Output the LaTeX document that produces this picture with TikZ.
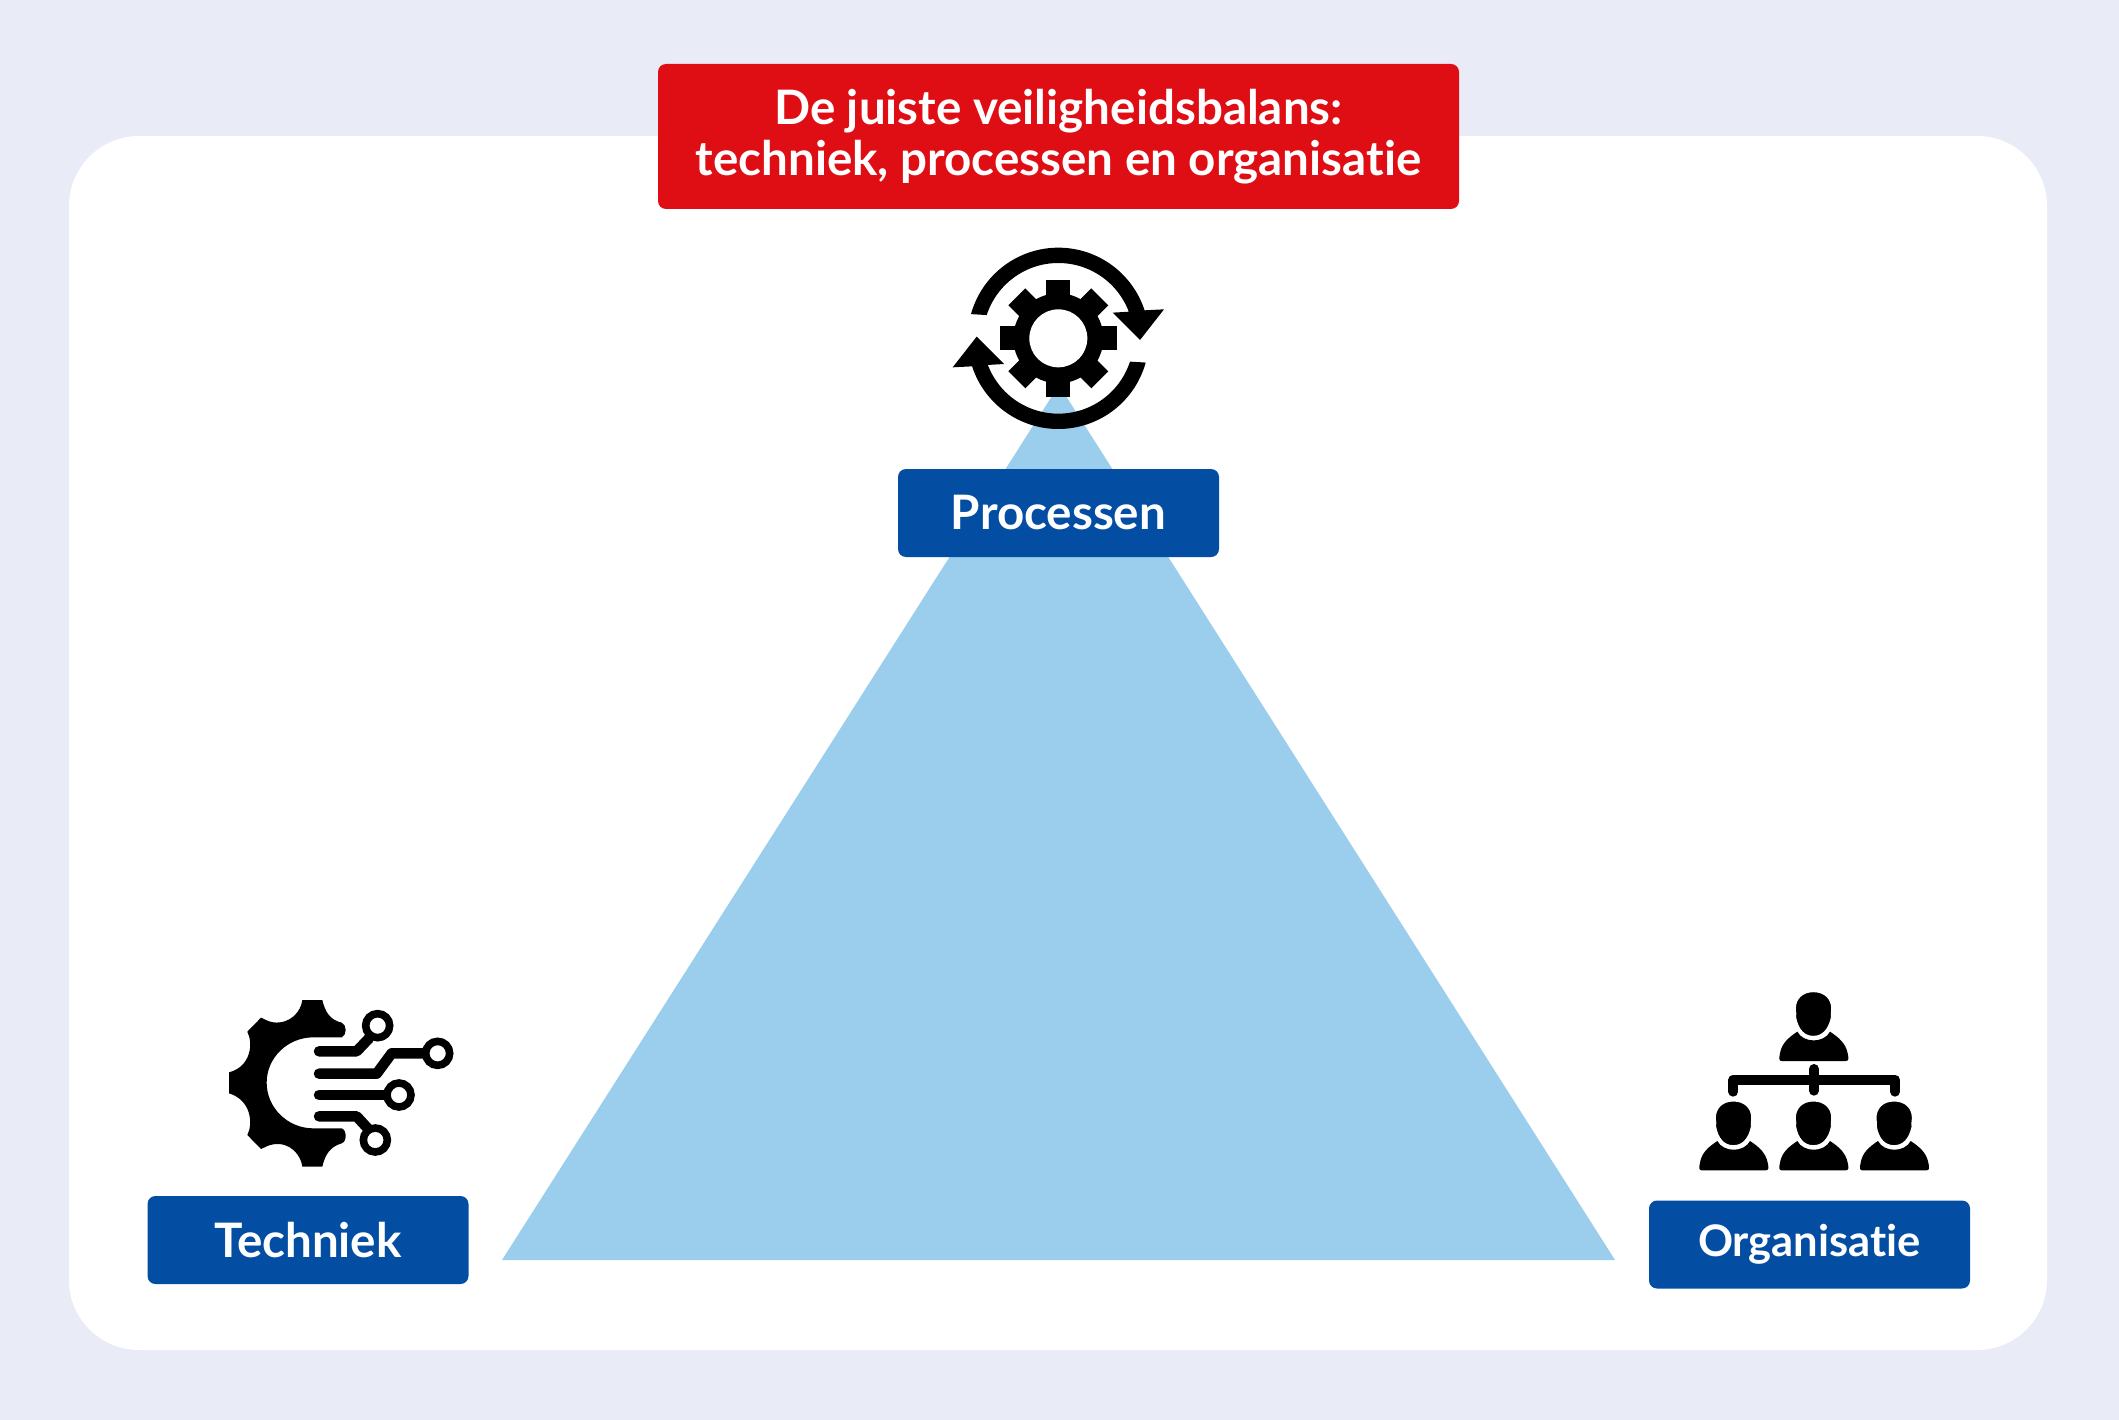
\documentclass[tikz,border=0pt]{standalone}
\usepackage{fontspec}
\setmainfont{Lato}[BoldFont={Lato Bold},Ligatures=NoCommon]
\definecolor{bgc}{HTML}{E9ECF7}
\definecolor{redc}{HTML}{DF0E15}
\definecolor{bluec}{HTML}{034EA2}
\definecolor{triac}{HTML}{9BCDEC}
\tikzset{
  zoomframe/.style 2 args={x=0.33333pt,y=-0.33333pt,shift={(#1pt,-#2pt)}},
  labelbox/.style={fill=bluec,text=white,rounded corners=8pt,minimum width=321pt,minimum height=88pt,inner sep=0pt,font=\fontsize{47.5}{54}\selectfont\bfseries},
  titlebox/.style={fill=redc,text=white,rounded corners=8pt,minimum width=801pt,minimum height=145pt,inner sep=0pt,align=center,font=\fontsize{47.5}{50.5}\selectfont\bfseries},
  wire/.style={line width=10.5pt,line cap=round,line join=round,black},
  ring/.style={line width=7.6pt,black},
  orgline/.style={line width=10pt,line cap=round,black}
}
\newcommand{\orgperson}{%
  \fill[black] (305,258) .. controls (296,258) and (297,250) .. (300,235)
    .. controls (305,205) and (325,188) .. (352,170)
    .. controls (370,205) and (432,205) .. (450,170)
    .. controls (477,188) and (497,205) .. (503,235)
    .. controls (506,250) and (507,258) .. (497,258) -- cycle;
  \filldraw[black,draw=white,line width=3pt] (400,47)
    .. controls (438,47) and (458,72) .. (458,100)
    .. controls (458,112) and (455,118) .. (457,128)
    .. controls (449,165) and (430,187) .. (400,187)
    .. controls (370,187) and (351,165) .. (344,128)
    .. controls (346,118) and (343,112) .. (343,100)
    .. controls (343,72) and (363,47) .. (400,47) -- cycle;
}
\begin{document}
\begin{tikzpicture}[x=1pt,y=-1pt]
\useasboundingbox (0,0) rectangle (2119,1420);
\fill[bgc] (0,0) rectangle (2119,1420);
\fill[white,rounded corners=70pt] (69,136) rectangle (2047,1350);
\fill[triac] (1059,385) -- (1615,1260) -- (502,1260) -- cycle;

\node[titlebox] (title) at (1058.5,136.5) {De juiste veiligheidsbalans:\\techniek, processen en organisatie};
\node[labelbox] (processen) at (1058.5,513) {Processen};
\node[labelbox] (techniek) at (308,1240) {Techniek};
\node[labelbox,font=\fontsize{43.5}{54}\selectfont\bfseries] (organisatie) at (1809.5,1244.5) {Organisatie};

% Processen icon
\begin{scope}[zoomframe={930}{230}]
  \def\cx{385}\def\cy{325}
  \fill[black] (\cx,\cy) circle[radius=135];
  \foreach \a in {0,45,...,315}
    \fill[black,rotate around={\a:(\cx,\cy)}] (\cx-36,\cy-176) rectangle (\cx+36,\cy-100);
  \fill[white] (\cx,\cy) circle[radius=87];
  \foreach \r in {0,180}{
  \begin{scope}[rotate around={\r:(\cx,\cy)}]
    \fill[black] plot[domain=164.5:18,samples=90] ({\cx+272*cos(\x)},{\cy-272*sin(\x)})
      -- (702,238) -- (630,330) -- (548,248) -- (598,245)
      -- plot[domain=19:162,samples=90] ({\cx+226*cos(\x)},{\cy-226*sin(\x)}) -- cycle;
  \end{scope}}
\end{scope}

% Techniek icon
\begin{scope}[zoomframe={215}{985}]
  \fill[black] (262,45) -- (322,45) .. controls (330,80) and (345,105) .. (380,113)
    .. controls (396,118) and (396,152) .. (380,157) -- (295,157)
    .. controls (218,157) and (155,218) .. (155,293)
    .. controls (155,368) and (218,430) .. (295,430) -- (380,430)
    .. controls (396,435) and (396,470) .. (380,475)
    .. controls (345,485) and (330,510) .. (322,545) -- (262,545)
    .. controls (258,510) and (225,470) .. (175,478) .. controls (160,480) and (150,487) .. (138,492) -- (97,450)
    .. controls (115,415) and (108,345) .. (42,325) -- (42,262)
    .. controls (108,245) and (115,175) .. (97,140) -- (138,98)
    .. controls (150,103) and (160,110) .. (175,112) .. controls (225,118) and (258,80) .. (262,45) -- cycle;
  \draw[wire] (312,199) -- (425,199) -- (462,160);
  \draw[wire] (312,266) -- (485,266) -- (530,205) -- (622,205);
  \draw[wire] (312,330) -- (510,330);
  \draw[wire] (312,394) -- (425,394) -- (458,430);
  \draw[ring] (488,122) circle[radius=36];
  \draw[ring] (668,205) circle[radius=36];
  \draw[ring] (552,330) circle[radius=36];
  \draw[ring] (481,465) circle[radius=36];
\end{scope}

% Organisatie icon
\begin{scope}[zoomframe={1680}{975}]
  \orgperson
  \begin{scope}[shift={(-240,328)}]\orgperson\end{scope}
  \begin{scope}[shift={(0,328)}]\orgperson\end{scope}
  \begin{scope}[shift={(242,328)}]\orgperson\end{scope}
  \draw[orgline,line join=round] (160,350) -- (160,314) -- (645,314) -- (645,350);
  \draw[orgline] (402,282) -- (402,347);
\end{scope}
\end{tikzpicture}
\end{document}
